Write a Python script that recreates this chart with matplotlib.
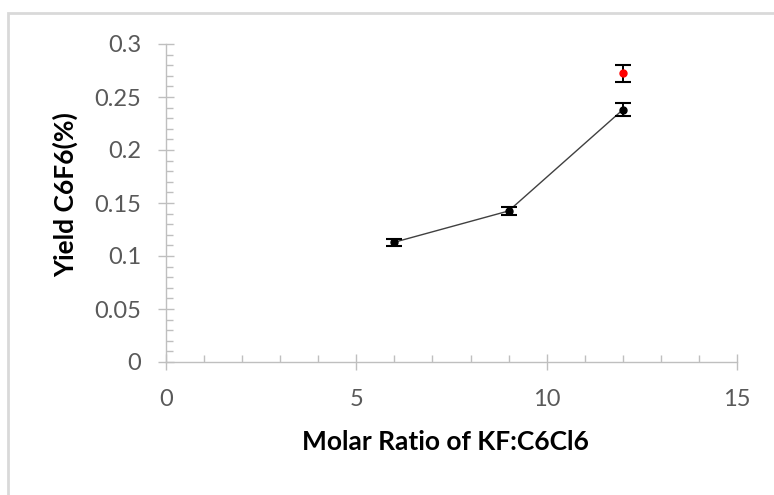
import matplotlib
matplotlib.use("Agg")
import matplotlib.pyplot as plt
from matplotlib.patches import Rectangle
from matplotlib.ticker import MultipleLocator

# data
ratio = [6, 9, 12]
yield_c6f6 = [0.113, 0.1425, 0.238]
yield_err = [0.0033, 0.004, 0.006]
extra_ratio = [12]
extra_yield = [0.2725]
extra_err = [0.008]

plt.rcParams['font.family'] = ['Lato', 'DejaVu Sans']

fig = plt.figure(figsize=(7.74, 4.95), dpi=100)
ax = fig.add_axes([166 / 774, 1 - 362 / 495, 571 / 774, 318 / 495])

# light frame round the chart area, Excel-style
fig.patches.append(Rectangle((8 / 774, -0.02), 1.1, 1 - 13 / 495 + 0.02,
                             transform=fig.transFigure, fill=False,
                             edgecolor='#d9d9d9', linewidth=2))

ax.plot(ratio, yield_c6f6, color='#404040', linewidth=1, zorder=2)
ax.errorbar(ratio, yield_c6f6, yerr=yield_err, fmt='o', color='black',
            markersize=5, capsize=5.5, elinewidth=1.4, capthick=1.5, zorder=3)
ax.errorbar(extra_ratio, extra_yield, yerr=extra_err, fmt='o', color='black',
            mfc='red', mec='red', markersize=5, capsize=5.5,
            elinewidth=1.4, capthick=1.5, zorder=3)

ax.set_xlim(0, 15)
ax.set_ylim(0, 0.3)
ax.xaxis.set_major_locator(MultipleLocator(5))
ax.xaxis.set_minor_locator(MultipleLocator(1))
ax.yaxis.set_major_locator(MultipleLocator(0.05))
ax.yaxis.set_minor_locator(MultipleLocator(0.01))
ax.set_yticks([0, 0.05, 0.1, 0.15, 0.2, 0.25, 0.3],
              ['0', '0.05', '0.1', '0.15', '0.2', '0.25', '0.3'])

for s in ['top', 'right']:
    ax.spines[s].set_visible(False)
for s in ['left', 'bottom']:
    ax.spines[s].set_color('#bfbfbf')
    ax.spines[s].set_linewidth(1)

ax.tick_params(which='major', direction='inout', length=11.5, width=1,
               color='#bfbfbf', labelsize=17, labelcolor='#595959')
ax.tick_params(axis='y', which='major', pad=12)
ax.tick_params(axis='x', which='major', pad=14)
ax.tick_params(which='minor', direction='in', length=5, width=1,
               color='#bfbfbf')

ax.set_xlabel('Molar Ratio of KF:C6Cl6', fontsize=19, fontweight='bold')
ax.set_ylabel('Yield C6F6(%)', fontsize=19, fontweight='bold')
ax.xaxis.set_label_coords(0.489, -0.215)
ax.yaxis.set_label_coords(-0.154, 0.525)

fig.savefig('out.png', dpi=100)
